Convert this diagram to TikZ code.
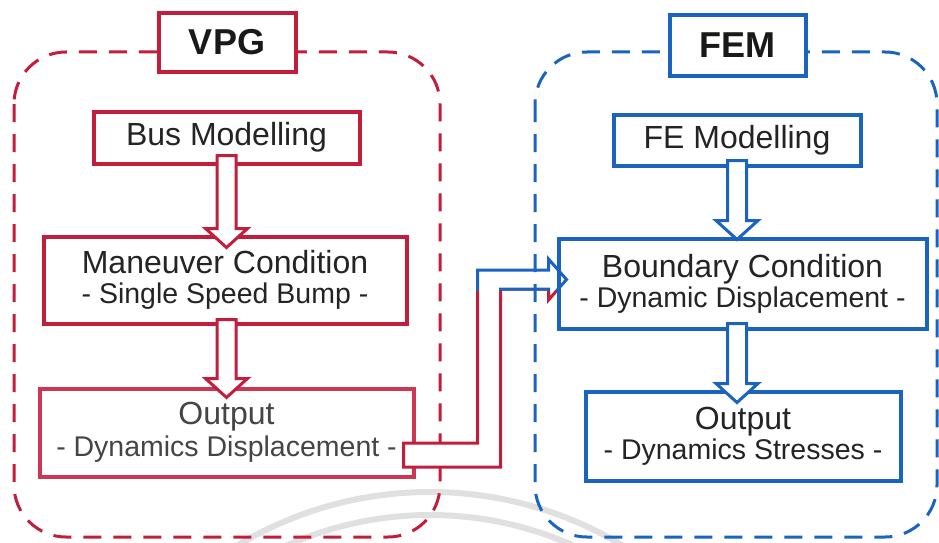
\documentclass[tikz,border=0pt]{standalone}
\usepackage{fontspec}
\setmainfont{Liberation Sans}
\usetikzlibrary{calc}

\definecolor{vred}{HTML}{C21E3C}
\definecolor{vredl}{HTML}{CE3753}
\definecolor{fblue}{HTML}{1A64BF}
\definecolor{txt}{HTML}{242424}
\definecolor{txtl}{HTML}{454545}
\definecolor{wm}{HTML}{E0E0E0}

\newcommand{\subtxt}{\fontsize{28.5}{30}\selectfont}

% hollow block arrow pointing down, shaft aligned on a column node
% #1 from, #2 to, #3 column node, #4 colour, #5 start inset, #6 tip inset
\newcommand{\hollowdrop}[6]{%
  \path (#1.south -| #3.south) coordinate (ha) (#2.north -| #3.south) coordinate (hb);
  \draw[flow, draw=#4] ($(ha)+(-9.5,-#5)$) -- ($(hb)+(-9.5,#6-19)$)
    -- ($(hb)+(-21,#6-19)$) -- ($(hb)+(0,#6)$) -- ($(hb)+(21,#6-19)$)
    -- ($(hb)+(9.5,#6-19)$) -- ($(ha)+(9.5,-#5)$) -- cycle;}

% elbowed hollow arrow from the VPG output to the FEM boundary condition
\newcommand{\crossroute}{($(xs)+(0,-12)$) -- ($(xs)+(74,-12)$) |- ($(xt)+(-18,-9.5)$)
    -- ($(xt)+(-18,-20.5)$) -- (xt) -- ($(xt)+(-18,20.5)$) -- ($(xt)+(-18,9.5)$)
    -| ($(xs)+(97,12)$) -- ($(xs)+(0,12)$) -- cycle}

\begin{document}
\begin{tikzpicture}[x=1pt,y=-1pt,
  frame/.style={line width=3pt, dash pattern=on 18pt off 12pt, rounded corners=52pt},
  box/.style={draw, line width=4pt, fill=white, inner sep=0pt, text=txt, align=center,
    font=\fontsize{32}{30}\selectfont},
  titlebox/.style={box, text=black!90, font=\bfseries\fontsize{36}{36}\selectfont},
  flow/.style={line width=3pt, line join=miter, fill=white},
]
\useasboundingbox (0,0) rectangle (939,543);
\fill[white] (0,0) rectangle (939,543);

% faint background arcs
\begin{scope}
  \clip (0,0) rectangle (939,543);
  \draw[wm, line width=6pt] (430,865) circle (373pt);
  \draw[wm, line width=6pt] (430,865) circle (350pt);
\end{scope}

% VPG group
\draw[frame, vred] (14,52) rectangle (440,537);
\node[titlebox, draw=vred, minimum width=137, minimum height=58] (vpg) at (227,42.5) {VPG};
\node[box, draw=vred, minimum width=266, minimum height=52] (bus) at (226.5,137.5) {Bus Modelling};
\node[box, draw=vred, minimum width=363, minimum height=87] (man) at (225,280)
  {Maneuver Condition\\\subtxt - Single Speed Bump -};
\node[box, draw=vredl, text=txtl, minimum width=374, minimum height=88, font=\fontsize{32}{32}\selectfont] (outL) at (226.5,432.5)
  {Output\\\subtxt - Dynamics Displacement -};

% transfer arrow between the two groups
\coordinate (xs) at ($(outL.east)+(-12,22.5)$);
\coordinate (xt) at (566.5,279.5);
\fill[white] \crossroute;
\begin{scope}
  \clip (0,290) rectangle (939,543);
  \draw[line width=3pt, line join=miter, vred] \crossroute;
\end{scope}
\begin{scope}
  \clip (0,0) rectangle (939,290);
  \draw[line width=3pt, line join=miter, fblue] \crossroute;
\end{scope}

% FEM group
\draw[frame, fblue] (535,52) rectangle (937,537);
\node[titlebox, draw=fblue, minimum width=136, minimum height=60] (fem) at (737.5,45.5) {FEM};
\node[box, draw=fblue, minimum width=247, minimum height=51] (fe) at (737,140) {FE Modelling};
\node[box, draw=fblue, fill=none, minimum width=368, minimum height=90] (bound) at (742.5,283.5)
  {Boundary Condition\\\subtxt - Dynamic Displacement -};
\node[box, draw=fblue, minimum width=315, minimum height=89] (outR) at (743,436)
  {Output\\\subtxt - Dynamics Stresses -};

% flow arrows inside each group
\hollowdrop{bus}{man}{bus}{vred}{10}{13}
\hollowdrop{man}{outL}{bus}{vred}{6}{11}
\hollowdrop{fe}{bound}{fe}{fblue}{7}{3}
\hollowdrop{bound}{outR}{fe}{fblue}{7}{13}
\end{tikzpicture}
\end{document}
